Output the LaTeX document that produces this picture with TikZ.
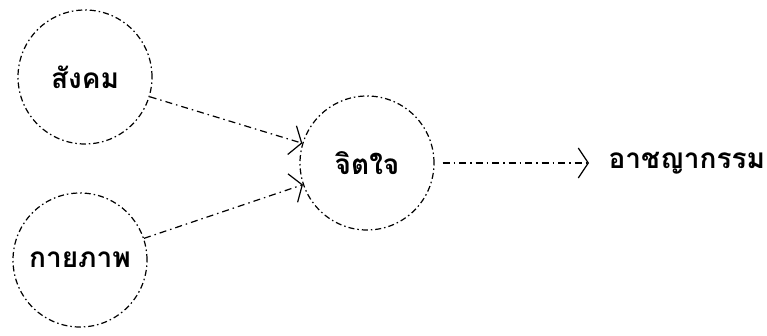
\documentclass[tikz,border=0pt]{standalone}
\usepackage{fontspec}
\newfontfamily\thaifont[Script=Thai]{Loma}
\usetikzlibrary{arrows.meta, positioning}

\begin{document}
\begin{tikzpicture}[x=1pt, y=-1pt,
  label text/.style={font=\thaifont\bfseries\fontsize{28}{32}\selectfont},
  factor/.style={circle, draw, line width=1.2pt, dash pattern=on 6pt off 3pt on 1.5pt off 3pt, minimum size=134pt, inner sep=0pt, label text},
  flow/.style={line width=1.2pt, dash pattern=on 7pt off 4pt on 1.5pt off 4pt, -{Straight Barb[length=10pt, width=30pt, line width=1.2pt]}}]
\useasboundingbox (0,0) rectangle (767,336);

% Factors
\node[factor] (soc) at (85,77) {สังคม};
\node[factor] (phys) at (80,260) {กายภาพ};
\node[factor] (mind) at (367,163) {จิตใจ};

% Outcome
\node[label text, anchor=west] (crime) at (605,163) {อาชญากรรม};

% Arrows
\draw[flow] (soc) -- (mind);
\draw[flow] (phys) -- (mind);
\draw[flow, shorten <=8pt, shorten >=16pt] (mind) -- (crime);
\end{tikzpicture}
\end{document}
